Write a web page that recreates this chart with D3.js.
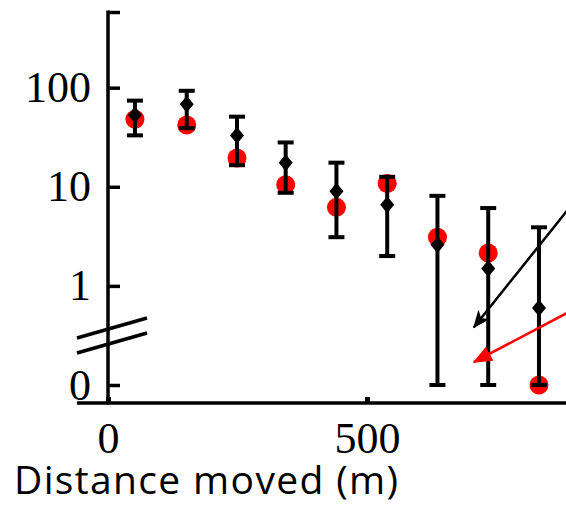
<!DOCTYPE html>
<html>
<head>
<meta charset="utf-8">
<script src="https://cdn.jsdelivr.net/npm/d3@7"></script>
<style>
  html, body { margin: 0; padding: 0; background: #fff; }
  svg { display: block; }
</style>
</head>
<body>
<svg id="chart" width="566" height="506"></svg>
<script>
// Distance bins (m) and abundance per bin
const distance = [52, 152, 249, 343, 441, 539, 636, 734, 832];
const observedMean = [53, 68, 33, 17.5, 9, 6.6, 2.6, 1.5, 0.6];
const observedUpper = [74, 93, 51, 28, 17.5, 12.6, 8.1, 6.1, 3.9];
const observedLower = [33, 39, 16.5, 8.7, 3.1, 2.0, 0, 0, 0];
const predicted = [48, 42, 19.5, 10.5, 6.2, 10.8, 3.1, 2.15, 0];

const xTicks = [0, 500];
const yTicks = [0, 1, 10, 100];
const xTitle = "Distance moved (m)";

// Annotation arrows as [tail, tip] in data units
const arrowBlack = [[950, 15], [706, 0.38]];
const arrowRed = [[950, 0.8], [706, 0.17]];

const W = 566, H = 506;
const svg = d3.select("#chart");

// Log scale; zero is drawn below the axis break at the 0.1 position
const zeroAt = 0.1;
const yTop = 580;
const y = d3.scaleLog().domain([zeroAt, yTop]).range([385, 12]);
const yv = v => y(Math.max(v, zeroAt));
const x = d3.scaleLinear().domain([0, 500]).range([108, 367]);

const axisY = 403;
const axisX = x(0);

// arrowheads
const defs = svg.append("defs");
defs.append("marker")
  .attr("id", "headBlack").attr("markerUnits", "userSpaceOnUse")
  .attr("viewBox", "0 -8 18 16").attr("refX", 17).attr("refY", 0)
  .attr("markerWidth", 18).attr("markerHeight", 16).attr("orient", "auto")
  .append("path").attr("d", "M0,-7.5L18,0L0,7.5L5,0Z").attr("fill", "#000");
defs.append("marker")
  .attr("id", "headRed").attr("markerUnits", "userSpaceOnUse")
  .attr("viewBox", "0 -9 19 18").attr("refX", 18).attr("refY", 0)
  .attr("markerWidth", 19).attr("markerHeight", 18).attr("orient", "auto")
  .append("path").attr("d", "M0,-8L19,0L0,8Z").attr("fill", "#ff0000");

// ---- axes ----
const tickFont = "'Liberation Serif', 'Times New Roman', serif";

const yAxis = d3.axisLeft(y)
  .tickValues([zeroAt, ...yTicks.filter(v => v > 0), yTop])
  .tickFormat(d => d === zeroAt ? String(yTicks[0]) : (d === yTop ? "" : d3.format("d")(d)))
  .tickSizeInner(-12).tickSizeOuter(0).tickPadding(17);

const gy = svg.append("g").attr("transform", `translate(${axisX},0)`).call(yAxis);
gy.select(".domain").remove();
gy.selectAll(".tick line").attr("stroke", "#000").attr("stroke-width", 3.5);
gy.selectAll(".tick text")
  .attr("fill", "#000")
  .style("font-family", tickFont)
  .style("font-size", "44px");

const xAxis = d3.axisBottom(x)
  .tickValues(xTicks)
  .tickFormat(d3.format("d"))
  .tickSizeInner(-6).tickSizeOuter(0).tickPadding(19);

const gx = svg.append("g").attr("transform", `translate(0,${axisY})`).call(xAxis);
gx.select(".domain").remove();
gx.selectAll(".tick line").attr("stroke", "#000").attr("stroke-width", 5);
gx.selectAll(".tick text")
  .attr("fill", "#000")
  .style("font-family", tickFont)
  .style("font-size", "44px");

// axis lines
svg.append("line")
  .attr("x1", axisX).attr("x2", axisX)
  .attr("y1", y(yTop) - 1.5).attr("y2", axisY + 1.5)
  .attr("stroke", "#000").attr("stroke-width", 3.5);
svg.append("line")
  .attr("x1", x(-60)).attr("x2", W)
  .attr("y1", axisY).attr("y2", axisY)
  .attr("stroke", "#000").attr("stroke-width", 3.5);

// axis break marks between 0 and 1
const breakMid = (y(1) + y(zeroAt)) / 2;
[-7.5, 7.5].forEach(off => {
  svg.append("line")
    .attr("x1", axisX - 31).attr("y1", breakMid + off + 10)
    .attr("x2", axisX + 39).attr("y2", breakMid + off - 10)
    .attr("stroke", "#000").attr("stroke-width", 3.5);
});

// ---- series ----
const rows = distance.map((d, i) => ({
  d, mean: observedMean[i], hi: observedUpper[i], lo: observedLower[i], pred: predicted[i]
}));

// predicted values (red)
svg.append("g").selectAll("circle").data(rows).join("circle")
  .attr("cx", r => x(r.d))
  .attr("cy", r => yv(r.pred))
  .attr("r", 9.5)
  .attr("fill", "#ff0000");

// error bars
const eb = svg.append("g").attr("stroke", "#000").attr("stroke-width", 4);
eb.selectAll("line.v").data(rows).join("line").attr("class", "v")
  .attr("x1", r => x(r.d)).attr("x2", r => x(r.d))
  .attr("y1", r => yv(r.hi)).attr("y2", r => yv(r.lo));
eb.selectAll("line.hi").data(rows).join("line").attr("class", "hi")
  .attr("x1", r => x(r.d) - 8).attr("x2", r => x(r.d) + 8)
  .attr("y1", r => yv(r.hi)).attr("y2", r => yv(r.hi));
eb.selectAll("line.lo").data(rows).join("line").attr("class", "lo")
  .attr("x1", r => x(r.d) - 8).attr("x2", r => x(r.d) + 8)
  .attr("y1", r => yv(r.lo)).attr("y2", r => yv(r.lo));

// observed means (black diamonds)
svg.append("g").selectAll("path").data(rows).join("path")
  .attr("transform", r => `translate(${x(r.d)},${yv(r.mean)})`)
  .attr("d", "M0,-8.5L7,0L0,8.5L-7,0Z")
  .attr("fill", "#000");

// ---- annotation arrows ----
svg.append("line")
  .attr("x1", x(arrowBlack[0][0])).attr("y1", yv(arrowBlack[0][1]))
  .attr("x2", x(arrowBlack[1][0])).attr("y2", yv(arrowBlack[1][1]))
  .attr("stroke", "#000").attr("stroke-width", 2.5)
  .attr("marker-end", "url(#headBlack)");
svg.append("line")
  .attr("x1", x(arrowRed[0][0])).attr("y1", yv(arrowRed[0][1]))
  .attr("x2", x(arrowRed[1][0])).attr("y2", yv(arrowRed[1][1]))
  .attr("stroke", "#ff0000").attr("stroke-width", 2.5)
  .attr("marker-end", "url(#headRed)");

// ---- axis title ----
svg.append("text")
  .attr("x", 14).attr("y", 494)
  .attr("fill", "#000")
  .attr("textLength", 384)
  .attr("lengthAdjust", "spacing")
  .style("font-family", "'Open Sans', 'Noto Sans', sans-serif")
  .style("font-size", "39px")
  .text(xTitle);
</script>
</body>
</html>
